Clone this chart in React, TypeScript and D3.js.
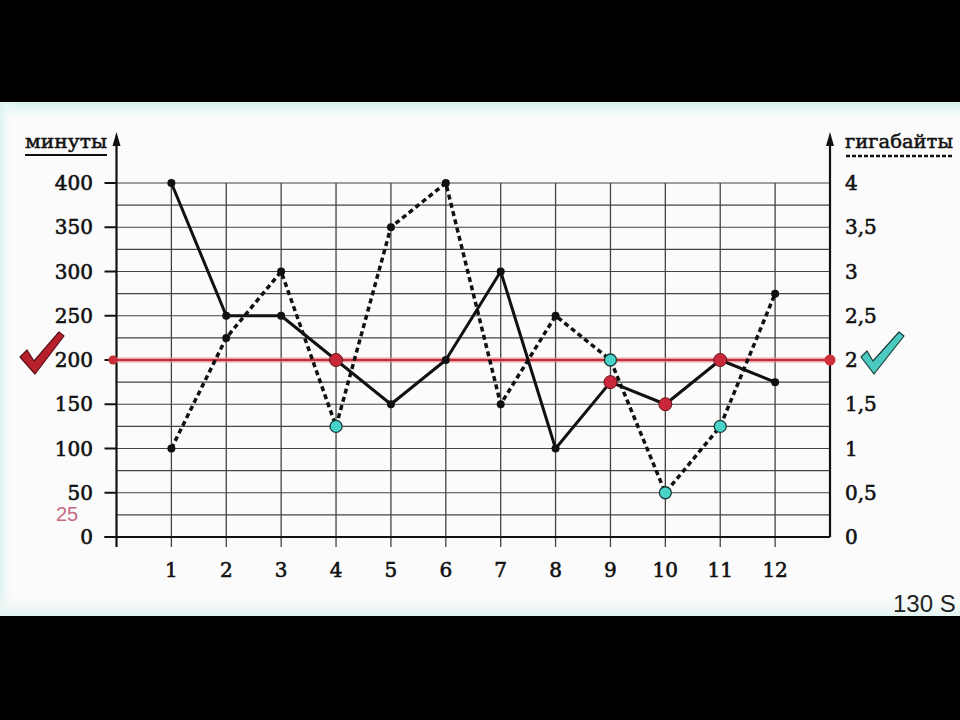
import React from "react";
import * as d3 from "d3";

const months = [1, 2, 3, 4, 5, 6, 7, 8, 9, 10, 11, 12];
const minutes = [400, 250, 250, 200, 150, 200, 300, 100, 175, 150, 200, 175];
const gigabytes = [1, 2.25, 3, 1.25, 3.5, 4, 1.5, 2.5, 2, 0.5, 1.25, 2.75];
const minuteTicks = [0, 50, 100, 150, 200, 250, 300, 350, 400];
const gbTicks = [0, 0.5, 1, 1.5, 2, 2.5, 3, 3.5, 4];
const gbTickLabels = ["0", "0,5", "1", "1,5", "2", "2,5", "3", "3,5", "4"];
const highlightMonths = [4, 9, 10, 11];
const limitMinutes = 200;

export default function App() {
  const x = d3.scaleLinear().domain([0, 13]).range([116.5, 830]);
  const yM = d3.scaleLinear().domain([0, 400]).range([537, 183]);
  const yG = d3.scaleLinear().domain([0, 4]).range([537, 183]);
  const gridVals = d3.range(0, 401, 25);
  const lineM = d3.line<number>().x((_, i) => x(months[i])).y((d) => yM(d));
  const lineG = d3.line<number>().x((_, i) => x(months[i])).y((d) => yG(d));
  const serif = "'DejaVu Serif', 'Liberation Serif', serif";
  const x0 = x(0);
  const x13 = x(13);
  const y0 = yM(0);
  const yTop = yM(400);
  const yLim = yM(limitMinutes);
  const labelStyle = { fontFamily: serif, fontSize: 20, fill: "#111", stroke: "#111", strokeWidth: 0.6 };
  return (
    <svg width={960} height={720} style={{ position: "absolute", left: 0, top: 0 }}>
      <defs>
        <linearGradient id="bgTop" x1="0" y1="0" x2="0" y2="1">
          <stop offset="0" stopColor="#d8f3ef" />
          <stop offset="1" stopColor="#fbfbfb" />
        </linearGradient>
        <linearGradient id="bgLeft" x1="0" y1="0" x2="1" y2="0">
          <stop offset="0" stopColor="#dcf2ef" />
          <stop offset="1" stopColor="#fbfbfb" stopOpacity="0" />
        </linearGradient>
        <linearGradient id="bgBottom" x1="0" y1="0" x2="0" y2="1">
          <stop offset="0" stopColor="#fbfbfb" stopOpacity="0" />
          <stop offset="1" stopColor="#e2f3f1" />
        </linearGradient>
      </defs>
      <rect x={0} y={0} width={960} height={720} fill="#000" />
      <rect x={0} y={102} width={960} height={514} fill="#fbfbfb" />
      <rect x={0} y={102} width={960} height={16} fill="url(#bgTop)" />
      <rect x={0} y={102} width={14} height={514} fill="url(#bgLeft)" />
      <rect x={0} y={590} width={960} height={26} fill="url(#bgBottom)" />

      {/* horizontal grid */}
      {gridVals.map((v) => (
        <line key={"h" + v} x1={x0} x2={x13} y1={yM(v)} y2={yM(v)} stroke="#444" strokeWidth={1.2} />
      ))}
      {/* vertical grid */}
      {months.map((m) => (
        <line key={"v" + m} x1={x(m)} x2={x(m)} y1={yTop} y2={y0 + 10} stroke="#444" strokeWidth={1.3} />
      ))}
      {/* axes */}
      <line x1={x0 - 12} x2={x13} y1={y0} y2={y0} stroke="#111" strokeWidth={2.2} />
      <line x1={x0} x2={x0} y1={y0 + 10} y2={140} stroke="#111" strokeWidth={2.2} />
      <path d={`M${x0},132 L${x0 - 4},146 L${x0 + 4},146 Z`} fill="#111" />
      <line x1={x13} x2={x13} y1={y0} y2={140} stroke="#111" strokeWidth={2.2} />
      <path d={`M${x13},132 L${x13 - 4},146 L${x13 + 4},146 Z`} fill="#111" />

      {/* left ticks */}
      {minuteTicks.map((v) => (
        <g key={"lt" + v}>
          <line x1={x0 - 12} x2={x0} y1={yM(v)} y2={yM(v)} stroke="#111" strokeWidth={2} />
          <text x={93} y={yM(v) + 7} textAnchor="end" {...labelStyle}>
            {v}
          </text>
        </g>
      ))}
      {/* right ticks */}
      {gbTicks.map((v, i) => (
        <text key={"rt" + v} x={845} y={yG(v) + 7} textAnchor="start" {...labelStyle}>
          {gbTickLabels[i]}
        </text>
      ))}
      {/* x tick labels */}
      {months.map((m) => (
        <text key={"xt" + m} x={x(m)} y={577} textAnchor="middle" {...labelStyle}>
          {m}
        </text>
      ))}

      {/* axis titles */}
      <text x={25} y={148} fontFamily={serif} fontSize={19} fill="#111" stroke="#111" strokeWidth={0.5} textLength={82} lengthAdjust="spacingAndGlyphs">минуты</text>
      <line x1={25} x2={107} y1={155} y2={155} stroke="#111" strokeWidth={2} />
      <text x={845} y={148} fontFamily={serif} fontSize={19} fill="#111" stroke="#111" strokeWidth={0.5} textLength={108} lengthAdjust="spacingAndGlyphs">гигабайты</text>
      <line x1={846} x2={952} y1={156} y2={156} stroke="#111" strokeWidth={2.5} strokeDasharray="4,2" />

      <text x={56} y={521} fontFamily="'Liberation Sans', Arial, sans-serif" fontSize={20} fill="#c76a80">25</text>

      {/* limit line */}
      <line x1={113} x2={833} y1={yLim} y2={yLim} stroke="#f0a0a8" strokeWidth={6} opacity={0.5} />
      <line x1={113} x2={833} y1={yLim} y2={yLim} stroke="#c62c36" strokeWidth={2.5} />
      <circle cx={113} cy={yLim} r={4.5} fill="#c62c36" />
      <circle cx={x13} cy={yLim} r={5.5} fill="#d0303a" />

      {/* series */}
      <path d={lineG(gigabytes) || ""} fill="none" stroke="#111" strokeWidth={3.5} strokeDasharray="5,3.5" />
      <path d={lineM(minutes) || ""} fill="none" stroke="#111" strokeWidth={3} strokeLinejoin="round" />
      {months.map((m, i) => (
        <g key={"pt" + m}>
          <circle cx={x(m)} cy={yM(minutes[i])} r={4} fill="#111" />
          <circle cx={x(m)} cy={yG(gigabytes[i])} r={4} fill="#111" />
        </g>
      ))}
      {highlightMonths.map((m) => {
        const i = months.indexOf(m);
        return (
          <g key={"hl" + m}>
            <circle cx={x(m)} cy={yM(minutes[i])} r={6.5} fill="#c8283a" stroke="#6a1018" strokeWidth={1} />
            <circle cx={x(m)} cy={yG(gigabytes[i])} r={6} fill="#48d4c8" stroke="#1a3a38" strokeWidth={1.3} />
          </g>
        );
      })}

      {/* checkmarks */}
      <path d="M20,357 L27,350 L34,361 L59,332 L64,336 L35,374 Z" fill="#b8202c" stroke="#5a1015" strokeWidth={1.2} strokeLinejoin="round" />
      <path d="M861,357 L867,351 L873,361 L899,332 L904,336 L874,374 Z" fill="#4ccac0" stroke="#1a3e3a" strokeWidth={1.2} strokeLinejoin="round" />

      <text x={893} y={612} fontFamily="'Liberation Sans', Arial, sans-serif" fontSize={24} fill="#222">130 S</text>
    </svg>
  );
}
